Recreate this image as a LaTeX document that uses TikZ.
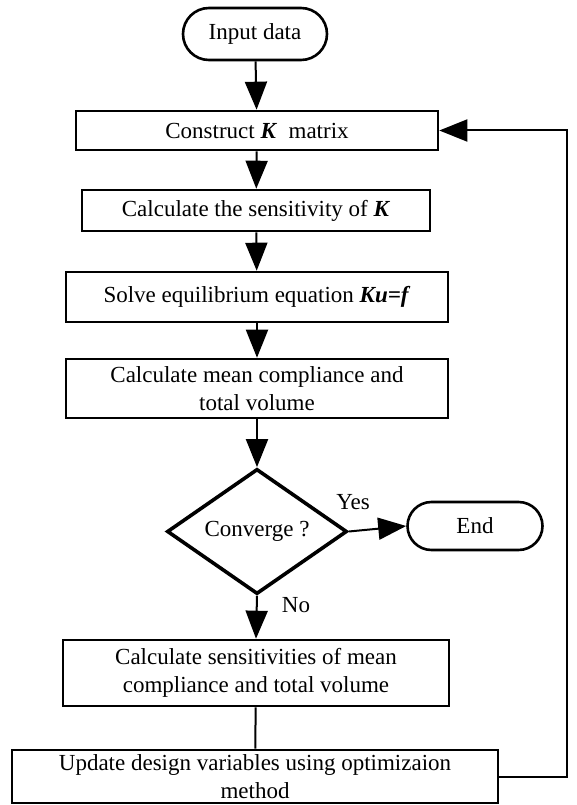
\documentclass[tikz,border=0pt]{standalone}
\usepackage{fontspec}
\setmainfont{Liberation Serif}
\usetikzlibrary{shapes.geometric,shapes.misc,arrows.meta}
\begin{document}
\begin{tikzpicture}[x=1pt,y=-1pt,
  box/.style={draw,line width=2.6pt,rectangle,inner sep=0pt,align=center,font=\fontsize{23}{28}\selectfont},
  term/.style={draw,line width=2.6pt,rounded rectangle,inner sep=0pt,align=center,font=\fontsize{23}{26}\selectfont},
  dec/.style={draw,line width=3.6pt,diamond,inner sep=0pt,align=center,font=\fontsize{23}{26}\selectfont},
  lbl/.style={font=\fontsize{23}{26}\selectfont,inner sep=0pt},
  arr/.style={line width=2pt,-{Triangle[width=22pt,length=28pt]}},
  ln/.style={line width=2pt}]
\useasboundingbox (0,0) rectangle (576,805);
\node[term,minimum width=144pt,minimum height=52pt] (in) at (255,34) {Input data};
\node[box,minimum width=362pt,minimum height=39pt] (k) at (257,130.5) {Construct \textbf{\textit{K}}\ \ matrix};
\node[box,minimum width=348pt,minimum height=41pt] (sens) at (256,210.5) {Calculate the sensitivity of \textbf{\textit{K}}};
\node[box,minimum width=382pt,minimum height=50pt] (solve) at (257,297) {Solve equilibrium equation \textbf{\textit{Ku=f}}};
\node[box,minimum width=382pt,minimum height=59pt] (mean) at (257,388.5) {Calculate mean compliance and\\total volume};
\node[dec,minimum width=180pt,minimum height=123pt] (conv) at (257,531.5) {Converge ?};
\node[term,minimum width=135pt,minimum height=48pt] (end) at (475,526) {End};
\node[box,minimum width=386pt,minimum height=66pt] (sensv) at (256,673) {Calculate sensitivities of mean\\compliance and total volume};
\node[box,minimum width=486pt,minimum height=53pt] (upd) at (255,776.5) {Update design variables using optimizaion\\method};
\node[lbl] (yes) at (353,502) {Yes};
\node[lbl] (no) at (296,605) {No};
\coordinate (lp) at (567,130.5);
\draw[arr] (in) -- (k);
\draw[arr] (k) -- (sens);
\draw[arr] (sens) -- (solve);
\draw[arr] (solve) -- (mean);
\draw[arr] (mean) -- (conv);
\draw[arr] (conv.east) -- (end.west);
\draw[arr] (conv.south) -- (sensv.north);
\draw[ln] (sensv) -- (upd);
\draw[arr] (upd.east) -| (lp) -- (k.east);
\end{tikzpicture}
\end{document}
